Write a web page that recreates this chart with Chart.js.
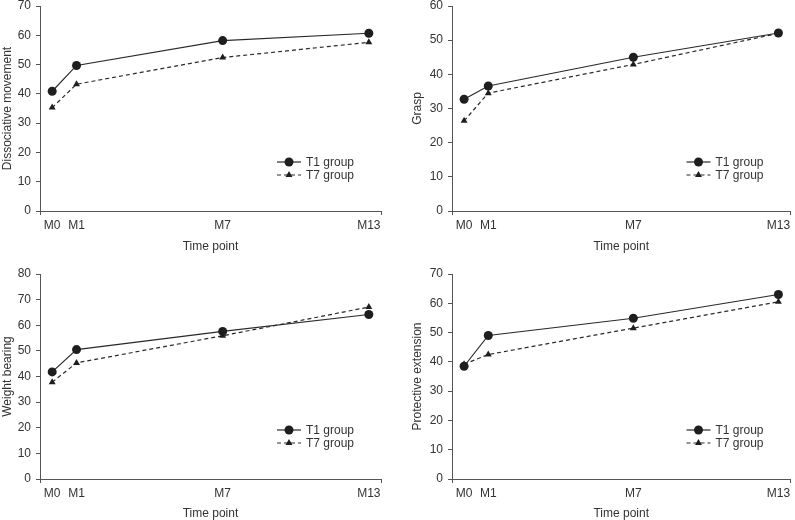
<!DOCTYPE html>
<html>
<head>
<meta charset="utf-8">
<script src="https://cdn.jsdelivr.net/npm/chart.js@4.4.1/dist/chart.umd.min.js"></script>
<style>
  body { margin: 0; background: #fff; width: 795px; height: 520px; position: relative; overflow: hidden; }
  .panel { position: absolute; }
</style>
</head>
<body>
<div class="panel" style="left:0;top:0;width:397px;height:254px"><canvas id="c1"></canvas></div>
<div class="panel" style="left:400px;top:0;width:395px;height:254px"><canvas id="c2"></canvas></div>
<div class="panel" style="left:0;top:260px;width:397px;height:261px"><canvas id="c3"></canvas></div>
<div class="panel" style="left:400px;top:260px;width:395px;height:261px"><canvas id="c4"></canvas></div>
<script>
// time axis
const timePoints = [0, 1, 7, 13];
const tickLabels = ["M0", "M1", "M7", "M13"];
const seriesNames = ["T1 group", "T7 group"];

// values
const dissT1 = [40.9, 49.7, 58.2, 60.7];
const dissT7 = [35.3, 43.3, 52.4, 57.6];
const graspT1 = [32.7, 36.6, 45.0, 52.1];
const graspT7 = [26.4, 34.5, 42.9, 52.0];
const weightT1 = [41.8, 50.5, 57.6, 64.2];
const weightT7 = [37.8, 45.3, 55.9, 67.1];
const protT1 = [38.5, 49.0, 54.9, 63.0];
const protT7 = [39.2, 42.5, 51.5, 60.5];

const axisColor = "#555";
const textColor = "#333";
Chart.defaults.font.family = '"Liberation Sans", Arial, sans-serif';
Chart.defaults.font.size = 12;
Chart.defaults.color = textColor;

// legend drawn inside the plot, bottom right
const inlineLegend = {
    id: "inlineLegend",
    afterDatasetsDraw(chart) {
        const { ctx, chartArea } = chart;
        const x0 = chartArea.right - 104;
        chart.data.datasets.forEach((ds, i) => {
            const y = chartArea.bottom - 49 + i * 13;
            ctx.save();
            ctx.strokeStyle = ds.borderColor;
            ctx.lineWidth = ds.borderWidth;
            ctx.setLineDash(ds.borderDash || []);
            ctx.beginPath();
            ctx.moveTo(x0, y);
            ctx.lineTo(x0 + 24, y);
            ctx.stroke();
            ctx.setLineDash([]);
            ctx.fillStyle = ds.pointBackgroundColor;
            const cx = x0 + 12, r = ds.pointRadius;
            ctx.beginPath();
            if (ds.pointStyle === "triangle") {
                ctx.moveTo(cx, y - r);
                ctx.lineTo(cx + r * 0.87, y + r * 0.5);
                ctx.lineTo(cx - r * 0.87, y + r * 0.5);
                ctx.closePath();
            } else {
                ctx.arc(cx, y, r, 0, Math.PI * 2);
            }
            ctx.fill();
            ctx.fillStyle = textColor;
            ctx.font = '12px "Liberation Sans", Arial, sans-serif';
            ctx.textBaseline = "middle";
            ctx.fillText(ds.label, x0 + 29, y + 1);
            ctx.restore();
        });
    }
};

function makeChart(id, yTitle, yMax, t1, t7, pad, yWidth) {
    const toPts = arr => arr.map((v, i) => ({ x: timePoints[i], y: v }));
    return new Chart(document.getElementById(id), {
        type: "line",
        data: {
            datasets: [
                { label: seriesNames[0], data: toPts(t1), borderColor: "#2a2a2a", borderWidth: 1.2,
                  pointStyle: "circle", pointRadius: 4.5, pointBackgroundColor: "#1e1e1e", pointBorderColor: "#1e1e1e", pointBorderWidth: 0 },
                { label: seriesNames[1], data: toPts(t7), borderColor: "#2a2a2a", borderWidth: 1.2, borderDash: [4, 3],
                  pointStyle: "triangle", pointRadius: 4, pointBackgroundColor: "#1e1e1e", pointBorderColor: "#1e1e1e", pointBorderWidth: 0 }
            ]
        },
        options: {
            responsive: true,
            maintainAspectRatio: false,
            animation: false,
            layout: { padding: pad },
            plugins: { legend: { display: false }, tooltip: { enabled: false } },
            scales: {
                x: {
                    type: "linear", min: -0.5, max: 13.5,
                    afterBuildTicks: s => { s.ticks = [-0.5, 0, 1, 7, 13, 13.5].map(v => ({ value: v })); },
                    afterFit: s => { s.height = pad.xHeight; },
                    ticks: {
                        autoSkip: false, maxRotation: 0, padding: 3, color: textColor,
                        callback: v => { const k = timePoints.indexOf(v); return k >= 0 ? tickLabels[k] : ""; }
                    },
                    grid: {
                        drawOnChartArea: false, tickLength: 4,
                        color: c => (c.tick && (c.tick.value === -0.5 || c.tick.value === 13.5)) ? axisColor : "rgba(0,0,0,0)"
                    },
                    border: { display: true, color: axisColor, width: 1 },
                    title: { display: true, text: "Time point", color: textColor, padding: 0 }
                },
                y: {
                    min: 0, max: yMax,
                    afterFit: s => { s.width = yWidth; s.paddingTop = 0; s.paddingBottom = 0; },
                    ticks: { stepSize: 10, padding: 5, color: textColor },
                    grid: { drawOnChartArea: false, tickLength: 4, color: axisColor },
                    border: { display: true, color: axisColor, width: 1 },
                    title: { display: true, text: yTitle, color: textColor, padding: 0 }
                }
            }
        },
        plugins: [inlineLegend]
    });
}

makeChart("c1", "Dissociative movement", 70, dissT1, dissT7, { left: 0, top: 6, right: 16, bottom: 0, xHeight: 43 }, 40);
makeChart("c2", "Grasp", 60, graspT1, graspT7, { left: 10, top: 6, right: 2, bottom: 0, xHeight: 43 }, 42);
makeChart("c3", "Weight bearing", 80, weightT1, weightT7, { left: 0, top: 14, right: 16, bottom: 0, xHeight: 42 }, 40);
makeChart("c4", "Protective extension", 70, protT1, protT7, { left: 10, top: 14, right: 2, bottom: 0, xHeight: 42 }, 42);
</script>
</body>
</html>
